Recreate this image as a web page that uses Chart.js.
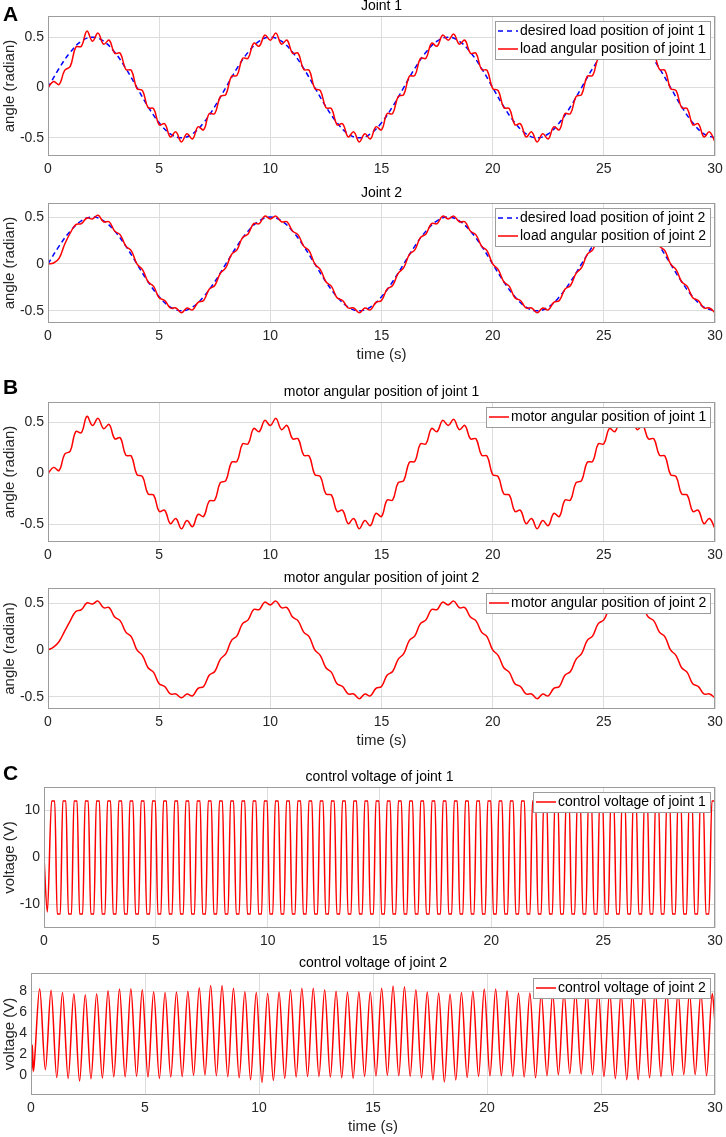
<!DOCTYPE html>
<html><head><meta charset="utf-8">
<script src="https://cdn.jsdelivr.net/npm/chart.js@4.4.1/dist/chart.umd.min.js"></script>
<style>
html,body{margin:0;padding:0;background:#fff;}
body{width:726px;height:1137px;position:relative;overflow:hidden;}
canvas{position:absolute;left:0;}
</style></head><body>
<script>
// ---------- DATA ----------
const xTicks = [0, 5, 10, 15, 20, 25, 30];
const angleTicks = [-0.5, 0, 0.5];
const v1Ticks = [-10, 0, 10];
const v2Ticks = [0, 2, 4, 6, 8];

const tFine = [
0,0.25,0.5,0.75,1,1.25,1.5,1.75,
2,2.25,2.5,2.75,3,3.25,3.5,3.75,
4,4.25,4.5,4.75,5,5.25,5.5,5.75,
6,6.25,6.5,6.75,7,7.25,7.5,7.75,
8,8.25,8.5,8.75,9,9.25,9.5,9.75,
10,10.25,10.5,10.75,11,11.25,11.5,11.75,
12,12.25,12.5,12.75,13,13.25,13.5,13.75,
14,14.25,14.5,14.75,15,15.25,15.5,15.75,
16,16.25,16.5,16.75,17,17.25,17.5,17.75,
18,18.25,18.5,18.75,19,19.25,19.5,19.75,
20,20.25,20.5,20.75,21,21.25,21.5,21.75,
22,22.25,22.5,22.75,23,23.25,23.5,23.75,
24,24.25,24.5,24.75,25,25.25,25.5,25.75,
26,26.25,26.5,26.75,27,27.25,27.5,27.75,
28,28.25,28.5,28.75,29,29.25,29.5,29.75,
30];

const tCoarse = [
0,0.5,1,1.5,2,2.5,3,3.5,4,4.5,5,5.5,6,6.5,7,7.5,
8,8.5,9,9.5,10,10.5,11,11.5,12,12.5,13,13.5,14,14.5,15,15.5,
16,16.5,17,17.5,18,18.5,19,19.5,20,20.5,21,21.5,22,22.5,23,23.5,
24,24.5,25,25.5,26,26.5,27,27.5,28,28.5,29,29.5,30];

const desiredJoint1 = [
0,0.19,0.35,0.46,0.5,0.46,0.35,0.19,0,-0.19,-0.35,-0.46,-0.5,-0.46,-0.35,-0.19,
0,0.19,0.35,0.46,0.5,0.46,0.35,0.19,0,-0.19,-0.35,-0.46,-0.5,-0.46,-0.35,-0.19,
0,0.19,0.35,0.46,0.5,0.46,0.35,0.19,0,-0.19,-0.35,-0.46,-0.5,-0.46,-0.35,-0.19,
0,0.19,0.35,0.46,0.5,0.46,0.35,0.19,0,-0.19,-0.35,-0.46,-0.5];
const desiredJoint2 = [
0,0.19,0.35,0.46,0.5,0.46,0.35,0.19,0,-0.19,-0.35,-0.46,-0.5,-0.46,-0.35,-0.19,
0,0.19,0.35,0.46,0.5,0.46,0.35,0.19,0,-0.19,-0.35,-0.46,-0.5,-0.46,-0.35,-0.19,
0,0.19,0.35,0.46,0.5,0.46,0.35,0.19,0,-0.19,-0.35,-0.46,-0.5,-0.46,-0.35,-0.19,
0,0.19,0.35,0.46,0.5,0.46,0.35,0.19,0,-0.19,-0.35,-0.46,-0.5];

const loadJoint1 = [
0,0.06,0.03,0.17,0.21,0.40,0.41,0.56,
0.46,0.54,0.43,0.47,0.34,0.34,0.18,0.17,
-0.01,-0.03,-0.20,-0.21,-0.37,-0.36,-0.49,-0.44,
-0.54,-0.46,-0.51,-0.39,-0.42,-0.26,-0.26,-0.09,
-0.07,0.11,0.12,0.29,0.29,0.44,0.41,0.52,
0.47,0.54,0.43,0.47,0.34,0.34,0.18,0.17,
-0.01,-0.03,-0.20,-0.21,-0.37,-0.36,-0.49,-0.44,
-0.54,-0.46,-0.51,-0.39,-0.42,-0.26,-0.26,-0.09,
-0.07,0.11,0.12,0.29,0.29,0.44,0.41,0.52,
0.47,0.53,0.43,0.47,0.34,0.34,0.18,0.17,
-0.01,-0.03,-0.20,-0.21,-0.37,-0.36,-0.49,-0.44,
-0.54,-0.46,-0.51,-0.39,-0.42,-0.26,-0.26,-0.09,
-0.07,0.11,0.12,0.29,0.29,0.44,0.41,0.52,
0.46,0.54,0.43,0.47,0.34,0.34,0.18,0.17,
-0.01,-0.03,-0.20,-0.21,-0.37,-0.36,-0.49,-0.44,
-0.54];

const loadJoint2 = [
0,0.01,0.06,0.21,0.33,0.42,0.43,0.49,
0.48,0.52,0.45,0.45,0.35,0.31,0.19,0.14,
0.00,-0.06,-0.19,-0.24,-0.36,-0.39,-0.47,-0.47,
-0.52,-0.47,-0.49,-0.41,-0.39,-0.27,-0.23,-0.10,
-0.04,0.10,0.15,0.28,0.32,0.43,0.43,0.51,
0.48,0.51,0.45,0.45,0.35,0.31,0.19,0.14,
0.00,-0.06,-0.19,-0.24,-0.36,-0.39,-0.47,-0.47,
-0.52,-0.47,-0.49,-0.41,-0.39,-0.27,-0.23,-0.10,
-0.04,0.10,0.15,0.28,0.32,0.43,0.43,0.51,
0.48,0.51,0.45,0.45,0.35,0.31,0.19,0.14,
0.00,-0.06,-0.19,-0.24,-0.36,-0.39,-0.47,-0.47,
-0.52,-0.47,-0.49,-0.41,-0.39,-0.27,-0.23,-0.10,
-0.04,0.10,0.15,0.28,0.32,0.43,0.43,0.51,
0.48,0.51,0.45,0.45,0.35,0.31,0.19,0.14,
0.00,-0.06,-0.19,-0.24,-0.36,-0.39,-0.47,-0.47,
-0.52];

const motorJoint1 = [
0,0.06,0.03,0.19,0.22,0.41,0.40,0.56,
0.47,0.54,0.44,0.48,0.34,0.35,0.18,0.17,
-0.01,-0.03,-0.20,-0.21,-0.37,-0.36,-0.49,-0.44,
-0.54,-0.46,-0.52,-0.40,-0.42,-0.27,-0.26,-0.09,
-0.07,0.11,0.12,0.29,0.29,0.44,0.41,0.52,
0.47,0.54,0.43,0.47,0.34,0.34,0.18,0.17,
-0.01,-0.03,-0.20,-0.21,-0.37,-0.36,-0.49,-0.44,
-0.54,-0.46,-0.51,-0.39,-0.42,-0.26,-0.26,-0.09,
-0.07,0.11,0.12,0.29,0.29,0.44,0.41,0.52,
0.47,0.53,0.43,0.47,0.34,0.34,0.18,0.17,
-0.01,-0.03,-0.20,-0.21,-0.37,-0.36,-0.49,-0.44,
-0.54,-0.46,-0.51,-0.39,-0.42,-0.26,-0.26,-0.09,
-0.07,0.11,0.12,0.29,0.29,0.44,0.41,0.52,
0.46,0.54,0.43,0.47,0.34,0.34,0.18,0.17,
-0.01,-0.03,-0.20,-0.21,-0.37,-0.36,-0.49,-0.44,
-0.54];

const motorJoint2 = [
0,0.03,0.09,0.20,0.31,0.41,0.43,0.50,
0.49,0.52,0.45,0.45,0.35,0.31,0.19,0.14,
0.00,-0.06,-0.19,-0.24,-0.36,-0.39,-0.47,-0.47,
-0.51,-0.47,-0.49,-0.41,-0.39,-0.27,-0.23,-0.10,
-0.04,0.10,0.15,0.28,0.32,0.43,0.43,0.51,
0.48,0.52,0.45,0.45,0.35,0.31,0.19,0.14,
0.00,-0.06,-0.19,-0.24,-0.36,-0.39,-0.47,-0.47,
-0.52,-0.47,-0.49,-0.41,-0.39,-0.27,-0.23,-0.10,
-0.04,0.10,0.15,0.28,0.32,0.43,0.43,0.51,
0.48,0.52,0.45,0.45,0.35,0.31,0.19,0.14,
0.00,-0.06,-0.19,-0.24,-0.36,-0.39,-0.47,-0.47,
-0.52,-0.47,-0.49,-0.41,-0.39,-0.27,-0.23,-0.10,
-0.04,0.10,0.15,0.28,0.32,0.43,0.43,0.51,
0.48,0.52,0.45,0.45,0.35,0.31,0.19,0.14,
0.00,-0.06,-0.19,-0.24,-0.36,-0.39,-0.47,-0.47,
-0.51];

// control voltage of joint 1 : times of turning points (edges of flat tops / bottoms)
const voltTime1 = [
0,0.15,
0.34,0.48,0.59,0.73,0.84,0.98,1.09,1.23,
1.34,1.48,1.59,1.73,1.84,1.98,2.09,2.23,
2.34,2.48,2.59,2.73,2.84,2.98,3.09,3.23,
3.34,3.48,3.59,3.73,3.84,3.98,4.09,4.23,
4.34,4.48,4.59,4.73,4.84,4.98,5.09,5.23,
5.34,5.48,5.59,5.73,5.84,5.98,6.09,6.23,
6.34,6.48,6.59,6.73,6.84,6.98,7.09,7.23,
7.34,7.48,7.59,7.73,7.84,7.98,8.09,8.23,
8.34,8.48,8.59,8.73,8.84,8.98,9.09,9.23,
9.34,9.48,9.59,9.73,9.84,9.98,10.09,10.23,
10.34,10.48,10.59,10.73,10.84,10.98,11.09,11.23,
11.34,11.48,11.59,11.73,11.84,11.98,12.09,12.23,
12.34,12.48,12.59,12.73,12.84,12.98,13.09,13.23,
13.34,13.48,13.59,13.73,13.84,13.98,14.09,14.23,
14.34,14.48,14.59,14.73,14.84,14.98,15.09,15.23,
15.34,15.48,15.59,15.73,15.84,15.98,16.09,16.23,
16.34,16.48,16.59,16.73,16.84,16.98,17.09,17.23,
17.34,17.48,17.59,17.73,17.84,17.98,18.09,18.23,
18.34,18.48,18.59,18.73,18.84,18.98,19.09,19.23,
19.34,19.48,19.59,19.73,19.84,19.98,20.09,20.23,
20.34,20.48,20.59,20.73,20.84,20.98,21.09,21.23,
21.34,21.48,21.59,21.73,21.84,21.98,22.09,22.23,
22.34,22.48,22.59,22.73,22.84,22.98,23.09,23.23,
23.34,23.48,23.59,23.73,23.84,23.98,24.09,24.23,
24.34,24.48,24.59,24.73,24.84,24.98,25.09,25.23,
25.34,25.48,25.59,25.73,25.84,25.98,26.09,26.23,
26.34,26.48,26.59,26.73,26.84,26.98,27.09,27.23,
27.34,27.48,27.59,27.73,27.84,27.98,28.09,28.23,
28.34,28.48,28.59,28.73,28.84,28.98,29.09,29.23,
29.34,29.48,29.59,29.73,29.86,30];
const voltJoint1 = [
0,-11.6,
12,12,-12,-12,12,12,-12,-12,
12,12,-12,-12,12,12,-12,-12,
12,12,-12,-12,12,12,-12,-12,
12,12,-12,-12,12,12,-12,-12,
12,12,-12,-12,12,12,-12,-12,
12,12,-12,-12,12,12,-12,-12,
12,12,-12,-12,12,12,-12,-12,
12,12,-12,-12,12,12,-12,-12,
12,12,-12,-12,12,12,-12,-12,
12,12,-12,-12,12,12,-12,-12,
12,12,-12,-12,12,12,-12,-12,
12,12,-12,-12,12,12,-12,-12,
12,12,-12,-12,12,12,-12,-12,
12,12,-12,-12,12,12,-12,-12,
12,12,-12,-12,12,12,-12,-12,
12,12,-12,-12,12,12,-12,-12,
12,12,-12,-12,12,12,-12,-12,
12,12,-12,-12,12,12,-12,-12,
12,12,-12,-12,12,12,-12,-12,
12,12,-12,-12,12,12,-12,-12,
12,12,-12,-12,12,12,-12,-12,
12,12,-12,-12,12,12,-12,-12,
12,12,-12,-12,12,12,-12,-12,
12,12,-12,-12,12,12,-12,-12,
12,12,-12,-12,12,12,-12,-12,
12,12,-12,-12,12,12,-12,-12,
12,12,-12,-12,12,12,-12,-12,
12,12,-12,-12,12,12,-12,-12,
12,12,-12,-12,12,12,-12,-12,
12,12,-12,-12,12,12];

// control voltage of joint 2 : peaks and troughs
const voltTime2 = [
0,0.02,0.06,0.1,0.14,
0.38,0.63,0.88,1.13,1.38,1.63,1.88,2.13,
2.38,2.63,2.88,3.13,3.38,3.63,3.88,4.13,
4.38,4.63,4.88,5.13,5.38,5.63,5.88,6.13,
6.38,6.63,6.88,7.13,7.38,7.63,7.88,8.13,
8.38,8.63,8.88,9.13,9.38,9.63,9.88,10.13,
10.38,10.63,10.88,11.13,11.38,11.63,11.88,12.13,
12.38,12.63,12.88,13.13,13.38,13.63,13.88,14.13,
14.38,14.63,14.88,15.13,15.38,15.63,15.88,16.13,
16.38,16.63,16.88,17.13,17.38,17.63,17.88,18.13,
18.38,18.63,18.88,19.13,19.38,19.63,19.88,20.13,
20.38,20.63,20.88,21.13,21.38,21.63,21.88,22.13,
22.38,22.63,22.88,23.13,23.38,23.63,23.88,24.13,
24.38,24.63,24.88,25.13,25.38,25.63,25.88,26.13,
26.38,26.63,26.88,27.13,27.38,27.63,27.88,28.13,
28.38,28.63,28.88,29.13,29.38,29.63,29.88,30];
const voltJoint2 = [
5.6,0.2,2.9,0.4,1.0,
8.25,0.54,8.1,-0.19,7.9,-0.29,7.78,-0.54,
7.68,-0.32,7.78,-0.25,8.06,-0.13,8.22,-0.13,
8.25,-0.1,8.16,-0.16,7.97,-0.29,7.9,-0.16,
7.94,-0.1,8.0,0.0,8.35,0.03,8.57,-0.03,
8.57,-0.13,8.29,-0.22,7.97,-0.41,7.9,-0.67,
7.81,-0.48,7.94,-0.29,8.16,-0.16,8.29,-0.1,
8.29,-0.1,8.16,-0.16,8.0,-0.22,7.94,-0.29,
7.97,-0.1,7.94,-0.06,8.29,0,8.5,-0.03,
8.44,-0.1,8.16,-0.22,7.94,-0.44,7.84,-0.63,
7.75,-0.44,7.9,-0.19,8.0,-0.1,8.22,-0.03,
8.22,-0.03,8.06,-0.1,7.84,-0.16,7.84,-0.22,
7.8,-0.03,7.8,0.06,7.9,0.16,8.0,0.13,
8.1,0.06,8.1,-0.1,8.0,-0.29,7.9,-0.41,
7.9,-0.41,8.0,-0.22,8.1,-0.1,8.1,0,
8.0,0.06,7.9,0.06,7.9,-0.03,7.8,5.0];

// ---------- STYLE / LAYOUT ----------
const FONT = '"Liberation Sans", Arial, Helvetica, sans-serif';
const RED = '#ff0000', BLUE = '#0000ff';
const GRID = '#dcdcdc', BOX = '#9c9c9c', TICKC = '#262626';

const panels = [
 {id:'a1', top:16, bottom:156, left:48, right:715, ymin:-0.68, ymax:0.71, yt:angleTicks,
  title:'Joint 1', ylabel:'angle (radian)', xlabel:false, letter:'A', letterY:21,
  series:[{t:tFine, v:loadJoint1, c:RED, dash:null, smooth:true, label:'load angular position of joint 1'},
          {t:tCoarse, v:desiredJoint1, c:BLUE, dash:[5,3.5], smooth:true, label:'desired load position of joint 1'}],
  legendOrder:[1,0]},
 {id:'a2', top:203, bottom:323, left:48, right:715, ymin:-0.63, ymax:0.65, yt:angleTicks,
  title:'Joint 2', ylabel:'angle (radian)', xlabel:true,
  series:[{t:tFine, v:loadJoint2, c:RED, dash:null, smooth:true, label:'load angular position of joint 2'},
          {t:tCoarse, v:desiredJoint2, c:BLUE, dash:[5,3.5], smooth:true, label:'desired load position of joint 2'}],
  legendOrder:[1,0]},
 {id:'b1', top:402, bottom:542, left:48, right:715, ymin:-0.67, ymax:0.70, yt:angleTicks,
  title:'motor angular position of joint 1', ylabel:'angle (radian)', xlabel:false, letter:'B', letterY:394,
  series:[{t:tFine, v:motorJoint1, c:RED, dash:null, smooth:true, label:'motor angular position of joint 1'}],
  legendOrder:[0]},
 {id:'b2', top:588, bottom:709, left:48, right:715, ymin:-0.63, ymax:0.66, yt:angleTicks,
  title:'motor angular position of joint 2', ylabel:'angle (radian)', xlabel:true,
  series:[{t:tFine, v:motorJoint2, c:RED, dash:null, smooth:true, label:'motor angular position of joint 2'}],
  legendOrder:[0]},
 {id:'c1', top:787, bottom:928, left:44, right:715, ymin:-15, ymax:15, yt:v1Ticks,
  title:'control voltage of joint 1', ylabel:'voltage (V)', xlabel:false, letter:'C', letterY:780,
  series:[{t:voltTime1, v:voltJoint1, c:RED, dash:null, smooth:false, label:'control voltage of joint 1'}],
  legendOrder:[0]},
 {id:'c2', top:973, bottom:1095, left:31, right:715, ymin:-1.87, ymax:9.75, yt:v2Ticks,
  title:'control voltage of joint 2', ylabel:'voltage (V)', xlabel:true,
  series:[{t:voltTime2, v:voltJoint2, c:RED, dash:null, smooth:false, label:'control voltage of joint 2'}],
  legendOrder:[0]}
];

function makePanel(p){
  const padTop = Math.min(p.top, 30);
  const xH = 48;
  const H = padTop + (p.bottom - p.top) + xH;
  const offY = p.top - padTop;
  const cv = document.createElement('canvas');
  cv.width = 726; cv.height = H;
  cv.style.top = offY + 'px';
  cv.style.width = '726px'; cv.style.height = H + 'px';
  document.body.appendChild(cv);

  const deco = {
    id: 'deco_' + p.id,
    afterDatasetsDraw(chart){
      const ctx = chart.ctx, a = chart.chartArea;
      ctx.save();
      ctx.strokeStyle = BOX; ctx.lineWidth = 1;
      ctx.strokeRect(Math.round(a.left)+0.5, Math.round(a.top)+0.5, Math.round(a.right-a.left)-1, Math.round(a.bottom-a.top)-1);
      ctx.font = '14px ' + FONT;
      const items = p.legendOrder.map(i => p.series[i]);
      const tw = Math.max(...items.map(s => ctx.measureText(s.label).width));
      const rowH = 18;
      const w = Math.round(3 + 20 + 2 + tw + 4);
      const h = items.length * rowH + 2;
      const x0 = Math.round(a.right - 5 - w), y0 = Math.round(a.top + 5);
      ctx.fillStyle = '#fff'; ctx.fillRect(x0, y0, w, h);
      ctx.strokeStyle = BOX; ctx.strokeRect(x0+0.5, y0+0.5, w, h);
      items.forEach((s, i) => {
        const yy = y0 + 1 + rowH*(i+0.5);
        ctx.strokeStyle = s.c; ctx.lineWidth = 1.5;
        ctx.setLineDash(s.dash ? [5,4] : []);
        ctx.beginPath(); ctx.moveTo(x0+3, yy); ctx.lineTo(x0+23, yy); ctx.stroke();
        ctx.setLineDash([]);
        ctx.fillStyle = '#000'; ctx.textAlign = 'left'; ctx.textBaseline = 'middle';
        ctx.fillText(s.label, x0+25, yy+0.5);
      });
      ctx.restore();
    },
    afterDraw(chart){
      const ctx = chart.ctx, a = chart.chartArea;
      ctx.save();
      const cx = (a.left + a.right)/2;
      ctx.fillStyle = '#000';
      ctx.font = '14px ' + FONT;
      ctx.textAlign = 'center'; ctx.textBaseline = 'middle';
      ctx.fillText(p.title, cx, a.top - 9.5);
      ctx.fillStyle = TICKC;
      ctx.font = '15px ' + FONT;
      if (p.xlabel) ctx.fillText('time (s)', cx, a.bottom + 32);
      ctx.save();
      ctx.translate(10, (a.top + a.bottom)/2);
      ctx.rotate(-Math.PI/2);
      ctx.fillText(p.ylabel, 0, 0);
      ctx.restore();
      if (p.letter){
        ctx.fillStyle = '#000';
        ctx.font = 'bold 21px ' + FONT;
        ctx.textAlign = 'left'; ctx.textBaseline = 'alphabetic';
        ctx.fillText(p.letter, 3, p.letterY - offY);
      }
      ctx.restore();
    }
  };

  const datasets = p.series.map(s => ({
    data: s.t.map((x, i) => ({x: x, y: s.v[i]})),
    borderColor: s.c, borderWidth: 1.5, borderDash: s.dash || [],
    pointRadius: 0, fill: false,
    cubicInterpolationMode: s.smooth ? 'default' : 'monotone',
    tension: s.smooth ? 0.4 : 0
  }));

  const tickFont = {family: FONT, size: 14};
  new Chart(cv, {
    type: 'line',
    data: {datasets},
    options: {
      responsive: false, animation: false, events: [],
      layout: {padding: {top: padTop, right: 726 - p.right, left: 0, bottom: 0}},
      plugins: {legend: {display: false}, title: {display: false}, tooltip: {enabled: false}},
      scales: {
        x: {
          type: 'linear', min: 0, max: 30,
          afterBuildTicks(s){ s.ticks = xTicks.map(v => ({value: v})); },
          afterFit(s){ s.height = xH; s.paddingLeft = 0; s.paddingRight = 0; },
          ticks: {font: tickFont, color: TICKC, padding: 5, maxRotation: 0, autoSkip: false, callback: v => String(v)},
          grid: {color: GRID, drawTicks: false, lineWidth: 1},
          border: {display: false}
        },
        y: {
          type: 'linear', min: p.ymin, max: p.ymax,
          afterBuildTicks(s){ s.ticks = p.yt.map(v => ({value: v})); },
          afterFit(s){ s.width = p.left; s.paddingTop = 0; s.paddingBottom = 0; },
          ticks: {font: tickFont, color: TICKC, padding: 4, autoSkip: false, callback: v => String(v)},
          grid: {color: GRID, drawTicks: false, lineWidth: 1},
          border: {display: false}
        }
      }
    },
    plugins: [deco]
  });
}

panels.forEach(makePanel);
</script>
</body></html>
